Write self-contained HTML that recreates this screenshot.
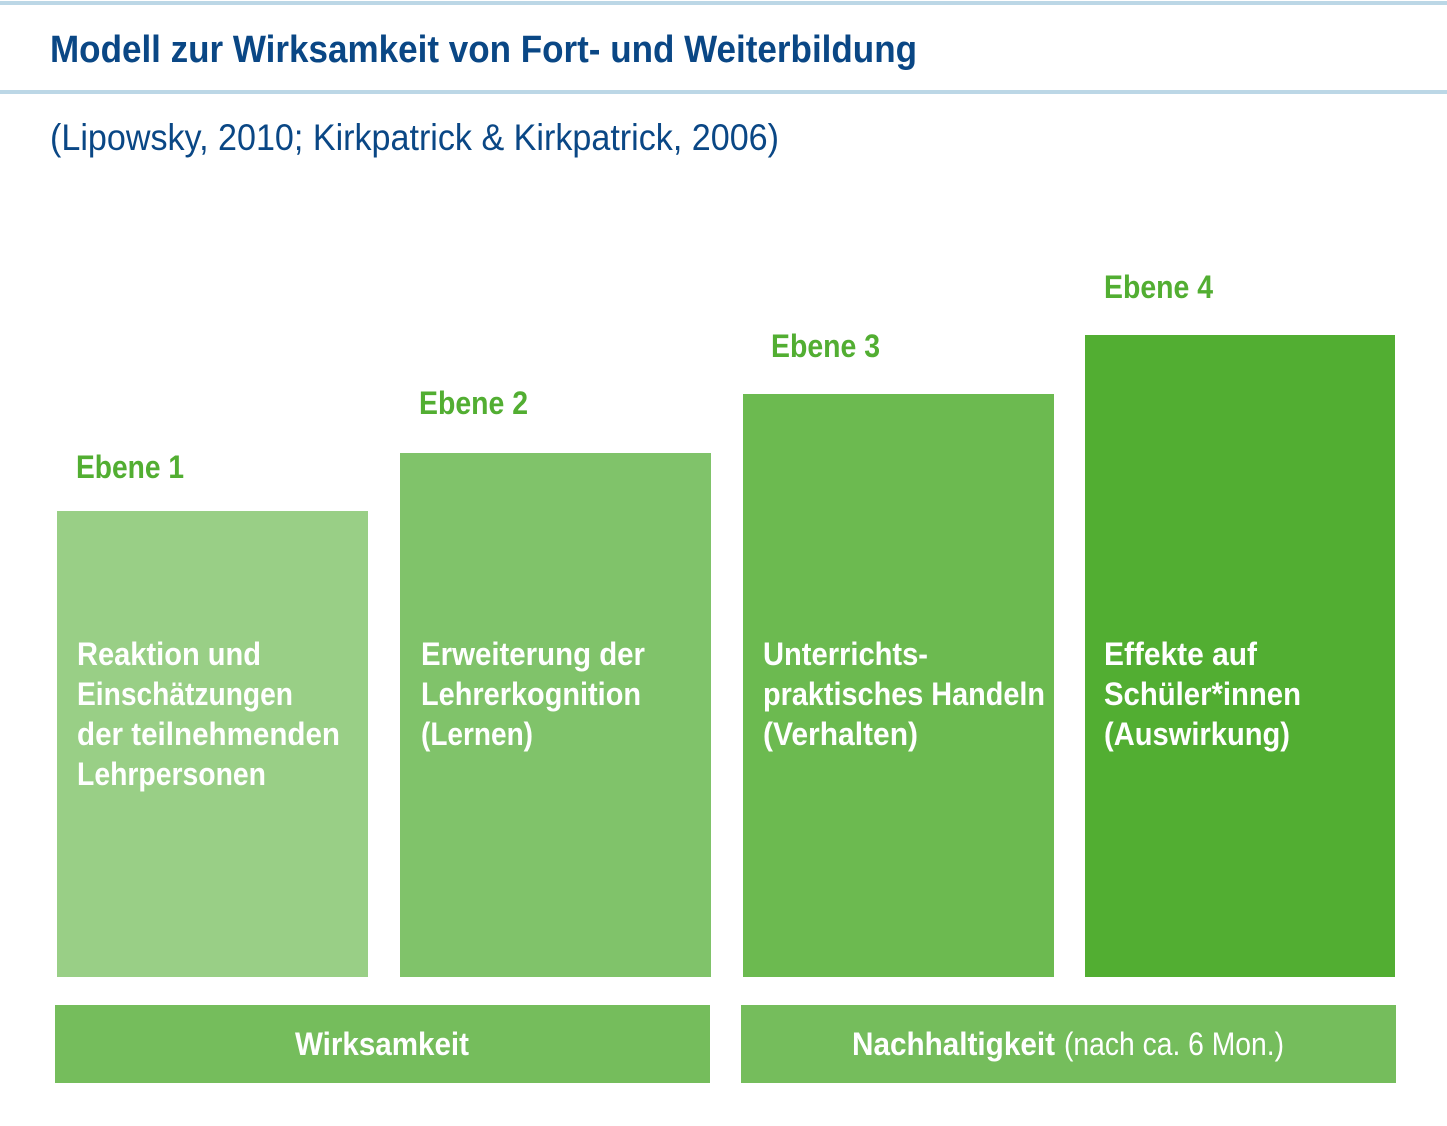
<!DOCTYPE html>
<html><head><meta charset="utf-8"><style>
html,body{margin:0;padding:0;background:#fff;}
svg{display:block;}
text{font-family:"Liberation Sans",sans-serif;}
</style></head><body>
<svg width="1447" height="1126" viewBox="0 0 1447 1126" xmlns="http://www.w3.org/2000/svg">
<rect x="0" y="1" width="1447" height="4" fill="#bcd7e6"/>
<rect x="0" y="90" width="1447" height="4" fill="#bcd7e6"/>
<text x="50" y="62" font-size="38" font-weight="bold" fill="#0a4785" textLength="867" lengthAdjust="spacingAndGlyphs">Modell zur Wirksamkeit von Fort- und Weiterbildung</text>
<text x="50" y="150" font-size="37" fill="#0a4785" textLength="729" lengthAdjust="spacingAndGlyphs">(Lipowsky, 2010; Kirkpatrick &amp; Kirkpatrick, 2006)</text>

<rect x="57" y="511" width="311" height="466" fill="#99cf86"/>
<rect x="400" y="453" width="311" height="524" fill="#80c36a"/>
<rect x="743" y="394" width="311" height="583" fill="#6cba50"/>
<rect x="1085" y="335" width="310" height="642" fill="#52ae32"/>

<g font-size="32" font-weight="bold" fill="#52ae32">
<text x="76" y="478" textLength="108" lengthAdjust="spacingAndGlyphs">Ebene 1</text>
<text x="419" y="414" textLength="109" lengthAdjust="spacingAndGlyphs">Ebene 2</text>
<text x="771" y="357" textLength="109" lengthAdjust="spacingAndGlyphs">Ebene 3</text>
<text x="1104" y="298" textLength="109" lengthAdjust="spacingAndGlyphs">Ebene 4</text>
</g>

<g font-size="32" font-weight="bold" fill="#fff">
<text x="77" y="665" textLength="184" lengthAdjust="spacingAndGlyphs">Reaktion und</text>
<text x="77" y="705" textLength="216" lengthAdjust="spacingAndGlyphs">Einschätzungen</text>
<text x="77" y="745" textLength="263" lengthAdjust="spacingAndGlyphs">der teilnehmenden</text>
<text x="77" y="785" textLength="189" lengthAdjust="spacingAndGlyphs">Lehrpersonen</text>

<text x="421" y="665" textLength="224" lengthAdjust="spacingAndGlyphs">Erweiterung der</text>
<text x="421" y="705" textLength="220" lengthAdjust="spacingAndGlyphs">Lehrerkognition</text>
<text x="421" y="745" textLength="112" lengthAdjust="spacingAndGlyphs">(Lernen)</text>

<text x="763" y="665" textLength="165" lengthAdjust="spacingAndGlyphs">Unterrichts-</text>
<text x="763" y="705" textLength="282" lengthAdjust="spacingAndGlyphs">praktisches Handeln</text>
<text x="763" y="745" textLength="155" lengthAdjust="spacingAndGlyphs">(Verhalten)</text>

<text x="1104" y="665" textLength="153" lengthAdjust="spacingAndGlyphs">Effekte auf</text>
<text x="1104" y="705" textLength="197" lengthAdjust="spacingAndGlyphs">Schüler*innen</text>
<text x="1104" y="745" textLength="186" lengthAdjust="spacingAndGlyphs">(Auswirkung)</text>
</g>

<rect x="55" y="1005" width="655" height="78" fill="#75bd5c"/>
<rect x="741" y="1005" width="655" height="78" fill="#75bd5c"/>
<text x="295" y="1055" font-size="32" font-weight="bold" fill="#fff" textLength="174" lengthAdjust="spacingAndGlyphs">Wirksamkeit</text>
<text x="852" y="1055" font-size="32" font-weight="bold" fill="#fff" textLength="203" lengthAdjust="spacingAndGlyphs">Nachhaltigkeit</text>
<text x="1064" y="1055" font-size="32" fill="#fff" textLength="220" lengthAdjust="spacingAndGlyphs">(nach ca. 6 Mon.)</text>
</svg>
</body></html>
